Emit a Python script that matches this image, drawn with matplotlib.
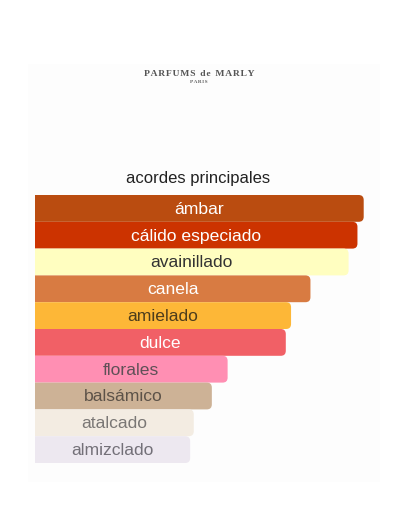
import matplotlib
matplotlib.use("Agg")
import matplotlib.pyplot as plt
from matplotlib.patches import FancyBboxPatch, Rectangle

categories = ["ámbar", "cálido especiado", "avainillado", "canela", "amielado",
              "dulce", "florales", "balsámico", "atalcado", "almizclado"]
values = [100, 98.1, 95.4, 83.8, 77.9, 76.3, 58.6, 53.8, 48.3, 47.2]
bar_colors = ["#BA4C10", "#CC3300", "#FFFEC0", "#D87B42", "#FDB737",
              "#F16066", "#FF8FB3", "#CDB296", "#F3ECE2", "#EDE8F0"]
text_colors = ["#FFFFFF", "#FFFFFF", "#333333", "#FFFFFF", "#4D3D1C",
               "#FFFFFF", "#5F5057", "#5C5248", "#7A7775", "#737078"]
title = "acordes principales"

W, H = 400, 532
fig = plt.figure(figsize=(W / 100, H / 100), dpi=100)
fig.patch.set_facecolor("white")

# faint page panel
fig.patches.append(Rectangle((28 / W, 1 - 482 / H), (380 - 28) / W, (482 - 64) / H,
                             transform=fig.transFigure, facecolor="#FDFDFD",
                             edgecolor="none", zorder=-5))

# logo text
fig.text(199 / W, 1 - 73.5 / H, "P\u200aA\u200aR\u200aF\u200aU\u200aM\u200aS  d\u200ae  M\u200aA\u200aR\u200aL\u200aY",
         ha="center", va="center", fontsize=6.8, color="#555555",
         family=["Liberation Serif", "DejaVu Serif"], weight="bold")
fig.text(199 / W, 1 - 82 / H, "P\u200aA\u200aR\u200aI\u200aS", ha="center", va="center",
         fontsize=3.8, color="#666666", family=["Liberation Serif", "DejaVu Serif"],
         weight="bold")

fig.text(198.5 / W, 1 - 178 / H, title, ha="center", va="center", fontsize=12,
         color="#222222", family="Liberation Sans")

xmax = 105
ax_left, ax_right = 35, 35 + 328.7 * xmax / 100
ax_top, ax_bot = 195, 463
ax = fig.add_axes([ax_left / W, 1 - ax_bot / H, (ax_right - ax_left) / W, (ax_bot - ax_top) / H])
ax.set_zorder(5)
ax.set_xlim(0, xmax)
n = len(categories)
ax.set_ylim(n - 0.5, -0.5)
ax.axis("off")

px_per_x = (ax_right - ax_left) / xmax
px_per_y = (ax_bot - ax_top) / n
r_px = 5
r_x = r_px / px_per_x
aspect = (1 / px_per_y) / (1 / px_per_x)

for i, (cat, v, bc, tc) in enumerate(zip(categories, values, bar_colors, text_colors)):
    p = FancyBboxPatch((-10, i - 0.5), v + 10, 1.0,
                       boxstyle=f"round,pad=0,rounding_size={r_x}",
                       mutation_aspect=aspect, facecolor=bc, edgecolor="none",
                       zorder=i + 1)
    ax.add_patch(p)
    ax.text(v / 2, i + 0.03, cat, ha="center", va="center", fontsize=12.6,
            color=tc, family="Liberation Sans", zorder=n + 5)

fig.savefig("out.png", dpi=100, facecolor="white")
